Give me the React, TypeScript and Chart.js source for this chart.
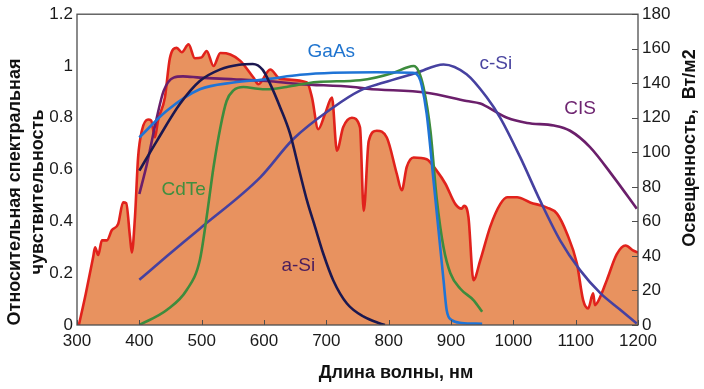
import React, { useEffect, useRef } from 'react';
import { Chart, registerables } from 'chart.js';

Chart.register(...registerables);

// Solar spectrum (irradiance, Вт/м2, right axis)
const spectrumNm = [303, 314, 326, 329, 334, 340, 348, 356, 366, 374, 379, 385, 388, 393, 398, 404, 414, 419, 425, 430, 441, 449, 460, 468, 479, 489, 500, 508, 519, 530, 546, 562, 583, 591, 610, 626, 669, 677, 687, 698, 709, 717, 727, 741, 754, 760, 768, 781, 797, 813, 821, 829, 840, 861, 877, 891, 907, 917, 921, 928, 936, 947, 963, 979, 990, 1006, 1027, 1054, 1070, 1086, 1102, 1112, 1120, 1128, 1131, 1137, 1150, 1166, 1180, 1193, 1200];
const spectrumW = [0, 18, 39.5, 45, 40.5, 49, 49, 55, 58.5, 71, 70.5, 51, 42, 62.5, 97, 112.5, 119, 118.5, 108.6, 118.5, 131.7, 154.5, 160.5, 158, 162.5, 154.5, 155, 158.7, 150, 157.5, 156.7, 153, 143.3, 139.5, 148, 142.5, 140.4, 131.7, 113.4, 122.3, 131.7, 101, 114.5, 120, 114.5, 66, 106.5, 112.5, 108.6, 87.6, 78, 91.5, 97, 96, 89.4, 81.8, 70, 67.4, 69, 62.5, 26, 37.5, 57, 70, 74, 74, 71, 68, 64.5, 53, 35.6, 14.4, 9.6, 18.3, 11.5, 14.4, 26, 41, 46, 43, 42];

// Relative spectral response curves (left axis)
const gaasNm = [400, 444, 497, 551, 604, 658, 711, 780, 838, 848, 853, 861, 872, 880, 888, 893, 901, 917, 950];
const gaasVal = [0.724, 0.827, 0.91, 0.936, 0.949, 0.966, 0.974, 0.976, 0.974, 0.96, 0.925, 0.815, 0.557, 0.365, 0.173, 0.058, 0.019, 0.008, 0.005];

const cdteNm = [400, 444, 476, 497, 508, 519, 530, 540, 551, 567, 590, 604, 636, 685, 754, 808, 829, 840, 848, 856, 867, 877, 888, 899, 915, 936, 950];
const cdteVal = [0.0, 0.058, 0.135, 0.25, 0.417, 0.609, 0.763, 0.865, 0.906, 0.919, 0.912, 0.91, 0.919, 0.938, 0.945, 0.974, 0.994, 1.0, 0.98, 0.917, 0.75, 0.49, 0.3, 0.2, 0.14, 0.096, 0.051];

const csiNm = [400, 444, 497, 594, 647, 711, 754, 792, 845, 888, 925, 957, 979, 1011, 1043, 1075, 1107, 1140, 1172, 1198];
const csiVal = [0.175, 0.265, 0.372, 0.57, 0.718, 0.84, 0.905, 0.936, 0.974, 1.006, 0.968, 0.88, 0.8, 0.648, 0.48, 0.327, 0.212, 0.122, 0.058, 0.006];

const cisNm = [400, 412, 428, 439, 455, 470, 497, 551, 604, 658, 743, 765, 861, 925, 947, 974, 990, 1022, 1065, 1091, 1123, 1161, 1198];
const cisVal = [0.506, 0.62, 0.8, 0.904, 0.955, 0.96, 0.955, 0.949, 0.942, 0.93, 0.919, 0.912, 0.897, 0.865, 0.855, 0.82, 0.8, 0.78, 0.77, 0.75, 0.687, 0.571, 0.449];

const asiNm = [400, 428, 465, 497, 530, 560, 582, 598, 610, 626, 642, 658, 669, 682, 695, 711, 733, 760, 786, 794];
const asiVal = [0.596, 0.71, 0.853, 0.942, 0.987, 1.005, 1.008, 0.985, 0.93, 0.84, 0.737, 0.583, 0.48, 0.378, 0.276, 0.173, 0.083, 0.032, 0.006, 0.0];

// Curve labels
const labelTexts = ['GaAs', 'c-Si', 'CIS', 'CdTe', 'a-Si'];
const labelNm = [708, 972, 1107, 471, 655];
const labelVal = [1.054, 1.008, 0.835, 0.523, 0.23];
const labelColors = ['#1f74cf', '#4a45a0', '#6e2470', '#3f8f3f', '#4a1d5c'];

// Axis ticks / titles
const xMin = 300, xMax = 1200, xStep = 100;
const yMin = 0, yMax = 1.2, yStep = 0.2;
const y1Min = 0, y1Max = 180, y1Step = 20;
const xTitle = 'Длина волны, нм';
const yTitle = ['Относительная спектральная', 'чувствительность'];
const y1Title = 'Освещенность,  Вт/м2';

const pts = (xs: number[], ys: number[]) => xs.map((x, i) => ({ x, y: ys[i] }));

const FONT = '"Liberation Sans", Arial, Helvetica, sans-serif';

const overlay = {
  id: 'overlay',
  afterDatasetsDraw(chart: any) {
    const { ctx, chartArea: a, scales } = chart;
    ctx.save();
    ctx.strokeStyle = '#4d4d4d';
    ctx.lineWidth = 1.3;
    ctx.strokeRect(a.left, a.top, a.right - a.left, a.bottom - a.top);
    ctx.lineWidth = 1;
    ctx.beginPath();
    scales.x.ticks.forEach((t: any) => {
      const px = Math.round(scales.x.getPixelForValue(t.value)) + 0.5;
      ctx.moveTo(px, a.bottom);
      ctx.lineTo(px, a.bottom - 5);
    });
    scales.y1.ticks.forEach((t: any) => {
      const py = Math.round(scales.y1.getPixelForValue(t.value)) + 0.5;
      ctx.moveTo(a.right, py);
      ctx.lineTo(a.right - 6, py);
    });
    ctx.stroke();

    ctx.font = `19px ${FONT}`;
    ctx.textAlign = 'center';
    ctx.textBaseline = 'middle';
    labelTexts.forEach((t, i) => {
      ctx.fillStyle = labelColors[i];
      ctx.fillText(t, scales.x.getPixelForValue(labelNm[i]), scales.y.getPixelForValue(labelVal[i]));
    });

    ctx.fillStyle = '#111';
    ctx.font = `bold 18px ${FONT}`;
    ctx.fillText(xTitle, 396, 373);

    ctx.save();
    ctx.translate(15, 192);
    ctx.rotate(-Math.PI / 2);
    ctx.fillText(yTitle[0], 0, 0);
    ctx.fillText(yTitle[1], 0, 23);
    ctx.restore();

    ctx.save();
    ctx.translate(690, 148);
    ctx.rotate(-Math.PI / 2);
    ctx.fillText(y1Title, 0, 0);
    ctx.restore();

    ctx.restore();
  },
};

const line = (label: string, xs: number[], ys: number[], color: string, order: number) => ({
  label,
  data: pts(xs, ys),
  borderColor: color,
  borderWidth: 2.6,
  pointRadius: 0,
  fill: false,
  tension: 0.4,
  cubicInterpolationMode: 'monotone' as const,
  yAxisID: 'y',
  order,
});

export default function App() {
  const ref = useRef<HTMLCanvasElement>(null);
  useEffect(() => {
    if (!ref.current) return;
    const tickFont = { family: FONT, size: 17 };
    const noGrid = { display: false, drawTicks: false, tickLength: 0 };
    const chart = new Chart(ref.current, {
      type: 'line',
      data: {
        datasets: [
          line('a-Si', asiNm, asiVal, '#1b1850', 1),
          line('GaAs', gaasNm, gaasVal, '#1f74d6', 2),
          line('CdTe', cdteNm, cdteVal, '#3d8c3d', 3),
          line('c-Si', csiNm, csiVal, '#4641a0', 4),
          line('CIS', cisNm, cisVal, '#6b1f6b', 5),
          {
            label: 'Spectrum',
            data: pts(spectrumNm, spectrumW),
            borderColor: '#e1221c',
            backgroundColor: '#e8925f',
            borderWidth: 2.6,
            pointRadius: 0,
            fill: 'origin',
            tension: 0.35,
            cubicInterpolationMode: 'monotone',
            yAxisID: 'y1',
            order: 10,
          } as any,
        ],
      },
      options: {
        responsive: false,
        animation: false,
        layout: { padding: { top: 13, left: 0, right: 0, bottom: 0 } },
        plugins: { legend: { display: false }, tooltip: { enabled: false } },
        scales: {
          x: {
            type: 'linear',
            min: xMin,
            max: xMax,
            ticks: {
              stepSize: xStep,
              font: tickFont,
              color: '#1a1a1a',
              padding: 6,
              maxRotation: 0,
              callback: (v: any) => String(Math.round(Number(v))),
            },
            grid: noGrid,
            border: { display: false },
            afterFit: (s: any) => { s.height = 64; },
          },
          y: {
            type: 'linear',
            position: 'left',
            min: yMin,
            max: yMax,
            ticks: {
              stepSize: yStep,
              font: tickFont,
              color: '#1a1a1a',
              padding: 4,
              callback: (v: any) => String(Math.round(Number(v) * 10) / 10),
            },
            grid: noGrid,
            border: { display: false },
            afterFit: (s: any) => { s.width = 77; },
          },
          y1: {
            type: 'linear',
            position: 'right',
            min: y1Min,
            max: y1Max,
            ticks: {
              stepSize: y1Step,
              font: tickFont,
              color: '#1a1a1a',
              padding: 4,
              callback: (v: any) => String(Math.round(Number(v))),
            },
            grid: noGrid,
            border: { display: false },
            afterFit: (s: any) => { s.width = 66; },
          },
        },
      },
      plugins: [overlay],
    });
    return () => chart.destroy();
  }, []);
  return (
    <canvas
      ref={ref}
      width={704}
      height={389}
      style={{ position: 'absolute', left: 0, top: 0, width: 704, height: 389, background: '#fff' }}
    />
  );
}
